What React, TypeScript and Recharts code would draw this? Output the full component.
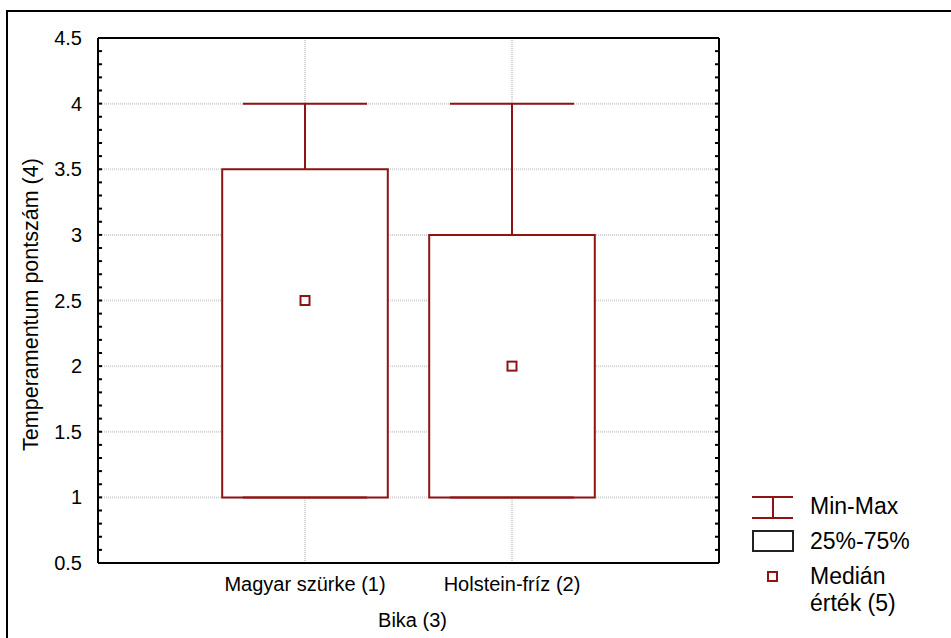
import {
  CartesianGrid,
  ComposedChart,
  ReferenceArea,
  ReferenceLine,
  Scatter,
  XAxis,
  YAxis,
} from "recharts";

const categories = ["Magyar szürke (1)", "Holstein-fríz (2)"];
const positions = [1, 2];
const minValues = [1, 1];
const q1Values = [1, 1];
const medianValues = [2.5, 2];
const q3Values = [3.5, 3];
const maxValues = [4, 4];
const yTicks = [0.5, 1, 1.5, 2, 2.5, 3, 3.5, 4, 4.5];
const minorTicks = Array.from({ length: 41 }, (_, i) => Math.round((0.5 + i * 0.1) * 10) / 10);

const RED = "#8e1414";
const FONT = "'Liberation Sans', Arial, sans-serif";
const BOX_HALF = 0.4;
const CAP_HALF = 0.3;

const medians = positions.map((x, i) => ({ x, y: medianValues[i] }));

const MedianSquare = (props: any) => {
  const { cx, cy } = props;
  if (cx == null || cy == null) return null;
  return <rect x={cx - 4.5} y={cy - 4.5} width={9} height={9} fill="white" stroke={RED} strokeWidth={2} />;
};

function LegendBlock() {
  const text = { fontFamily: FONT, fontSize: 23, color: "#000", lineHeight: "27px" };
  return (
    <div style={{ position: "absolute", left: 750, top: 490 }}>
      <div style={{ position: "absolute", left: 0, top: 4 }}>
        <svg width={46} height={26}>
          <line x1={2} y1={3} x2={43} y2={3} stroke={RED} strokeWidth={2} />
          <line x1={2} y1={24} x2={43} y2={24} stroke={RED} strokeWidth={2} />
          <line x1={23} y1={3} x2={23} y2={24} stroke={RED} strokeWidth={2} />
        </svg>
      </div>
      <div style={{ ...text, position: "absolute", left: 60, top: 3, whiteSpace: "nowrap" }}>Min-Max</div>
      <div style={{ position: "absolute", left: 0, top: 38 }}>
        <svg width={46} height={26}>
          <rect x={3} y={3} width={40} height={20} fill="white" stroke="#222" strokeWidth={2} />
        </svg>
      </div>
      <div style={{ ...text, position: "absolute", left: 60, top: 38, whiteSpace: "nowrap" }}>25%-75%</div>
      <div style={{ position: "absolute", left: 16, top: 80 }}>
        <svg width={14} height={14}>
          <rect x={2} y={2} width={9} height={9} fill="white" stroke={RED} strokeWidth={2} />
        </svg>
      </div>
      <div style={{ ...text, position: "absolute", left: 60, top: 73, whiteSpace: "nowrap" }}>
        Medián
        <br />
        érték (5)
      </div>
    </div>
  );
}

export default function App() {
  return (
    <div
      style={{
        position: "fixed",
        left: 0,
        top: 0,
        width: 951,
        height: 638,
        overflow: "hidden",
        background: "white",
        fontFamily: FONT,
      }}
    >
      <div
        style={{
          position: "absolute",
          left: 6,
          top: 10,
          width: 2000,
          height: 2000,
          borderTop: "2px solid black",
          borderLeft: "2px solid black",
        }}
      />
      <div style={{ position: "absolute", left: 0, top: 0 }}>
        <ComposedChart width={951} height={638} margin={{ top: 38, right: 232, bottom: 0, left: 0 }}>
          <CartesianGrid
            xAxisId="x"
            yAxisId="y"
            stroke="#d2d2d2"
            strokeWidth={2}
            strokeDasharray="1 1"
          />
          <XAxis
            xAxisId="x"
            type="number"
            dataKey="x"
            domain={[0, 3]}
            ticks={positions}
            allowDataOverflow
            interval={0}
            tickFormatter={(v: number) => categories[positions.indexOf(v)] ?? ""}
            height={75}
            tickLine={false}
            tickSize={6}
            tickMargin={8}
            axisLine={{ stroke: "#000", strokeWidth: 2 }}
            tick={{ fill: "#000", fontSize: 20, fontFamily: FONT }}
            label={{
              value: "Bika (3)",
              position: "insideBottom",
              offset: 11,
              dx: 4,
              style: { fill: "#000", fontSize: 20, fontFamily: FONT },
            }}
          />
          <XAxis
            xAxisId="top"
            orientation="top"
            type="number"
            domain={[0, 3]}
            allowDataOverflow
            mirror
            ticks={positions}
            tickLine={false}
            tickFormatter={() => ""}
            axisLine={{ stroke: "#000", strokeWidth: 2 }}
          />
          <YAxis
            yAxisId="y"
            type="number"
            dataKey="y"
            domain={[0.5, 4.5]}
            ticks={yTicks}
            interval={0}
            allowDataOverflow
            width={98}
            tickLine={false}
            tickMargin={10}
            axisLine={{ stroke: "#000", strokeWidth: 2 }}
            tick={{ fill: "#000", fontSize: 20, fontFamily: FONT }}
            label={{
              value: "Temperamentum pontszám (4)",
              angle: -90,
              position: "insideLeft",
              offset: 30,
              dy: 4,
              style: { textAnchor: "middle", fill: "#000", fontSize: 21.5, fontFamily: FONT },
            }}
          />
          <YAxis
            yAxisId="minorLeft"
            type="number"
            domain={[0.5, 4.5]}
            ticks={minorTicks}
            interval={0}
            allowDataOverflow
            mirror
            axisLine={false}
            tickSize={4}
            tickLine={{ stroke: "#000", strokeWidth: 2 }}
            tickFormatter={() => ""}
          />
          <YAxis
            yAxisId="minorRight"
            orientation="right"
            type="number"
            domain={[0.5, 4.5]}
            ticks={minorTicks}
            interval={0}
            allowDataOverflow
            mirror
            axisLine={{ stroke: "#000", strokeWidth: 2 }}
            tickSize={4}
            tickLine={{ stroke: "#000", strokeWidth: 2 }}
            tickFormatter={() => ""}
          />
          {positions.map((p, i) => (
            <ReferenceLine
              key={`wh-${i}`}
              xAxisId="x"
              yAxisId="y"
              segment={[
                { x: p, y: q3Values[i] },
                { x: p, y: maxValues[i] },
              ]}
              stroke={RED}
              strokeWidth={2}
            />
          ))}
          {positions.map((p, i) => (
            <ReferenceLine
              key={`cap-${i}`}
              xAxisId="x"
              yAxisId="y"
              segment={[
                { x: p - CAP_HALF, y: maxValues[i] },
                { x: p + CAP_HALF, y: maxValues[i] },
              ]}
              stroke={RED}
              strokeWidth={2}
            />
          ))}
          {positions.map((p, i) => (
            <ReferenceLine
              key={`capmin-${i}`}
              xAxisId="x"
              yAxisId="y"
              segment={[
                { x: p - CAP_HALF, y: minValues[i] },
                { x: p + CAP_HALF, y: minValues[i] },
              ]}
              stroke={RED}
              strokeWidth={2}
            />
          ))}
          {positions.map((p, i) => (
            <ReferenceArea
              key={`box-${i}`}
              xAxisId="x"
              yAxisId="y"
              x1={p - BOX_HALF}
              x2={p + BOX_HALF}
              y1={q1Values[i]}
              y2={q3Values[i]}
              fill="#ffffff"
              fillOpacity={1}
              stroke={RED}
              strokeWidth={2}
            />
          ))}
          <Scatter
            xAxisId="x"
            yAxisId="y"
            data={medians}
            dataKey="y"
            shape={MedianSquare}
            isAnimationActive={false}
          />
        </ComposedChart>
      </div>
      <LegendBlock />
    </div>
  );
}
